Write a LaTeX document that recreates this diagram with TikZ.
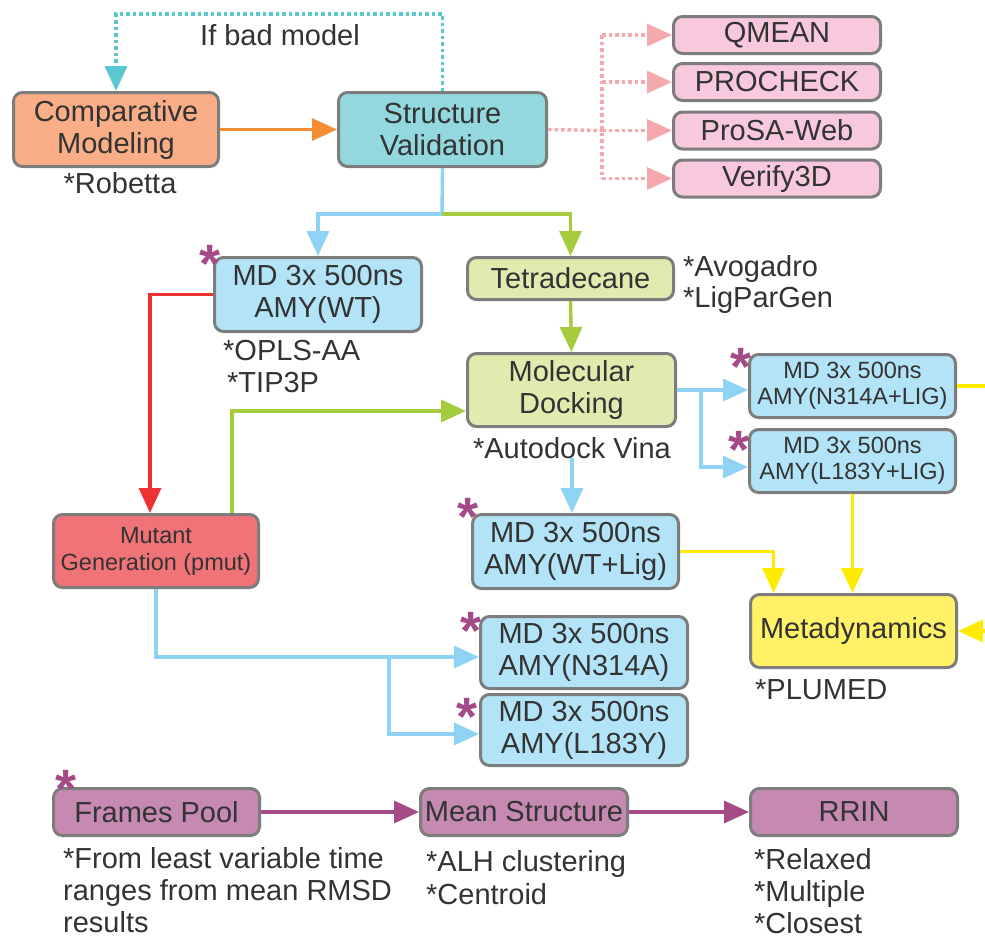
\documentclass[tikz,border=0pt]{standalone}
\usepackage{fontspec}
\setmainfont{Liberation Sans}
\usetikzlibrary{arrows.meta,calc}
\definecolor{bordergray}{HTML}{7D7D7D}
\definecolor{textcol}{HTML}{333333}
\definecolor{cmfill}{HTML}{F9AE88}
\definecolor{svfill}{HTML}{93D8DE}
\definecolor{pinkfill}{HTML}{F8C8DD}
\definecolor{bluefill}{HTML}{B3E3F7}
\definecolor{greenfill}{HTML}{E1EBB0}
\definecolor{redfill}{HTML}{F07378}
\definecolor{yellowfill}{HTML}{FFF266}
\definecolor{mauvefill}{HTML}{C689B2}
\definecolor{bluelinecol}{HTML}{8ED3F3}
\definecolor{greenlinecol}{HTML}{A4CC3C}
\definecolor{redlinecol}{HTML}{EE3135}
\definecolor{orangelinecol}{HTML}{F58D35}
\definecolor{yellowlinecol}{HTML}{FFEB00}
\definecolor{purplelinecol}{HTML}{A44A87}
\definecolor{cyanlinecol}{HTML}{5BC7D0}
\definecolor{pinklinecol}{HTML}{F5A9AC}
\definecolor{starcol}{HTML}{A44A87}
\begin{document}
\begin{tikzpicture}[x=1pt,y=-1pt,
  >={Triangle[length=25pt,width=22pt]},
  box/.style={draw=bordergray, line width=3pt, rounded corners=9pt, align=center,
    inner sep=0pt, text=textcol, font=\fontsize{29}{32}\selectfont},
  smallbox/.style={box, font=\fontsize{23.5}{26}\selectfont},
  ann/.style={text=textcol, font=\fontsize{29}{32}\selectfont, inner sep=0pt},
  starmark/.style={text=starcol, font=\fontsize{54}{54}\selectfont\bfseries, inner sep=0pt, anchor=base},
  conn/.style={line width=3.4pt},
  dotconn/.style={line width=3.5pt, dash pattern=on 3.5pt off 3pt},
  blueline/.style={conn, draw=bluelinecol},
  greenline/.style={conn, draw=greenlinecol},
  redline/.style={conn, draw=redlinecol},
  orangeline/.style={conn, draw=orangelinecol},
  yellowline/.style={conn, draw=yellowlinecol},
  purpleline/.style={conn, draw=purplelinecol},
  cyandot/.style={dotconn, draw=cyanlinecol},
  pinkdot/.style={dotconn, draw=pinklinecol},
]
\useasboundingbox (0,0) rectangle (985,940);

% ---- boxes ----
\node[box, fill=cmfill, minimum width=205pt, minimum height=74pt] (cm) at (116,129.5) {Comparative\\Modeling};
\node[box, fill=svfill, minimum width=208pt, minimum height=74pt] (sv) at (442.5,129.5) {Structure\\Validation};

\node[box, fill=pinkfill, minimum width=207pt, minimum height=37pt] (qmean) at (777,35) {QMEAN};
\node[box, fill=pinkfill, minimum width=207pt, minimum height=37pt] (procheck) at (777,82) {PROCHECK};
\node[box, fill=pinkfill, minimum width=207pt, minimum height=37pt] (prosa) at (777,130.5) {ProSA-Web};
\node[box, fill=pinkfill, minimum width=207pt, minimum height=37pt] (verify) at (777,178.5) {Verify3D};

\node[box, fill=bluefill, minimum width=207pt, minimum height=74pt] (mdwt) at (318,294.5) {MD 3x 500ns\\AMY(WT)};
\node[box, fill=greenfill, minimum width=206pt, minimum height=42pt] (tetra) at (570.5,278.5) {Tetradecane};
\node[box, fill=greenfill, minimum width=208pt, minimum height=73pt] (dock) at (571.5,390) {Molecular\\Docking};
\node[box, fill=redfill, minimum width=205pt, minimum height=73pt, font=\fontsize{23.5}{27}\selectfont] (mut) at (156,551) {Mutant\\Generation (pmut)};
\node[box, fill=bluefill, minimum width=206pt, minimum height=74pt] (mdlig) at (575.5,551.5) {MD 3x 500ns\\AMY(WT+Lig)};
\node[box, fill=bluefill, minimum width=207pt, minimum height=72pt] (n314) at (584,652.5) {MD 3x 500ns\\AMY(N314A)};
\node[box, fill=bluefill, minimum width=207pt, minimum height=71pt] (l183) at (584,730) {MD 3x 500ns\\AMY(L183Y)};
\node[smallbox, fill=bluefill, minimum width=206pt, minimum height=63pt] (n314lig) at (852.5,386) {MD 3x 500ns\\AMY(N314A+LIG)};
\node[smallbox, fill=bluefill, minimum width=206pt, minimum height=63pt] (l183lig) at (852.5,461) {MD 3x 500ns\\AMY(L183Y+LIG)};
\node[box, fill=yellowfill, minimum width=206pt, minimum height=73pt] (meta) at (853.5,631) {Metadynamics};

\node[box, fill=mauvefill, minimum width=206pt, minimum height=47pt] (frames) at (156.5,812) {Frames Pool};
\node[box, fill=mauvefill, minimum width=207pt, minimum height=47pt] (mean) at (524,812) {Mean Structure};
\node[box, fill=mauvefill, minimum width=207pt, minimum height=47pt] (rrin) at (854,812) {RRIN};

% ---- annotations ----
\node[ann, anchor=base] (robetta) at (120,193) {*Robetta};
\node[ann, anchor=base] (badmodel) at (280,45) {If bad model};
\node[ann, anchor=base west] (opls) at (223,360) {*OPLS-AA};
\node[ann, anchor=base west] (tip3p) at (227,392) {*TIP3P};
\node[ann, anchor=base west] (avog) at (683,276) {*Avogadro};
\node[ann, anchor=base west] (ligpar) at (683,307) {*LigParGen};
\node[ann, anchor=base] (dockl) at (572,458) {*Autodock Vina};
\node[ann, anchor=base west] (plumed) at (755,699) {*PLUMED};
\node[ann, anchor=base west] (fr1) at (63,868) {*From least variable time};
\node[ann, anchor=base west] (fr2) at (63,900) {ranges from mean RMSD};
\node[ann, anchor=base west] (fr3) at (63,932) {results};
\node[ann, anchor=base west] (ms1) at (426,871) {*ALH clustering};
\node[ann, anchor=base west] (ms2) at (426,904) {*Centroid};
\node[ann, anchor=base west] (rr1) at (754,869) {*Relaxed};
\node[ann, anchor=base west] (rr2) at (754,901) {*Multiple};
\node[ann, anchor=base west] (rr3) at (754,933) {*Closest};

% ---- stars ----
\node[starmark] (s1) at (210,282) {*};
\node[starmark] (s2) at (741,385) {*};
\node[starmark] (s3) at (739,468) {*};
\node[starmark] (s4) at (468,535) {*};
\node[starmark] (s5) at (471,649) {*};
\node[starmark] (s6) at (467,735) {*};
\node[starmark] (s7) at (66,807) {*};

% ---- coordinates ----
\coordinate (pk) at (602,130.5);
\coordinate (br) at (442,214);
\coordinate (bx) at (701,390);
\coordinate (bb) at (389,657);
\coordinate (yr1) at (985,386);
\coordinate (yr2) at (985,631);

% ---- connectors ----
\draw[cyandot,->] (sv.north) -- ++(0,-77) -| (cm.north);
\draw[orangeline,->] (cm.east) -- (sv.west);

\draw[pinkdot] (sv.east) -- (pk);
\draw[pinkdot] (pk |- qmean.west) -- (pk |- verify.west);
\draw[pinkdot,->] (pk |- qmean.west) -- (qmean.west);
\draw[pinkdot,->] (pk |- procheck.west) -- (procheck.west);
\draw[pinkdot,->] (pk |- prosa.west) -- (prosa.west);
\draw[pinkdot,->] (pk |- verify.west) -- (verify.west);

\draw[blueline] (sv.south) -- (br);
\draw[blueline,->] (br) -| (mdwt.north);
\draw[greenline,->] (br) -| (tetra.north);
\draw[greenline,->] (tetra.south) -- (dock.north);

\draw[redline,->] (mdwt.west) -| ([xshift=-6pt]mut.north);
\draw[greenline,->] ([xshift=76pt]mut.north) |- ([yshift=-21pt]dock.west);

\draw[blueline,->] (dockl.south) -- (dockl.south |- mdlig.north);
\draw[blueline,->] (dock.east) -- (dock.east -| n314lig.west);
\draw[blueline,->] (bx) |- ([yshift=-6pt]l183lig.west);

\draw[yellowline] (n314lig.east) -- (yr1);
\draw[yellowline,->] (l183lig.south) -- (l183lig.south |- meta.north);
\draw[yellowline,->] (mdlig.east) -| ([xshift=-80pt]meta.north);
\draw[yellowline,->] (yr2) -- (meta.east);

\draw[blueline,->] (mut.south) |- ([yshift=-4.5pt]n314.west);
\draw[blueline,->] (bb) |- ([yshift=-4pt]l183.west);

\draw[purpleline,->] (frames.east) -- (mean.west);
\draw[purpleline,->] (mean.east) -- (rrin.west);
\end{tikzpicture}
\end{document}
